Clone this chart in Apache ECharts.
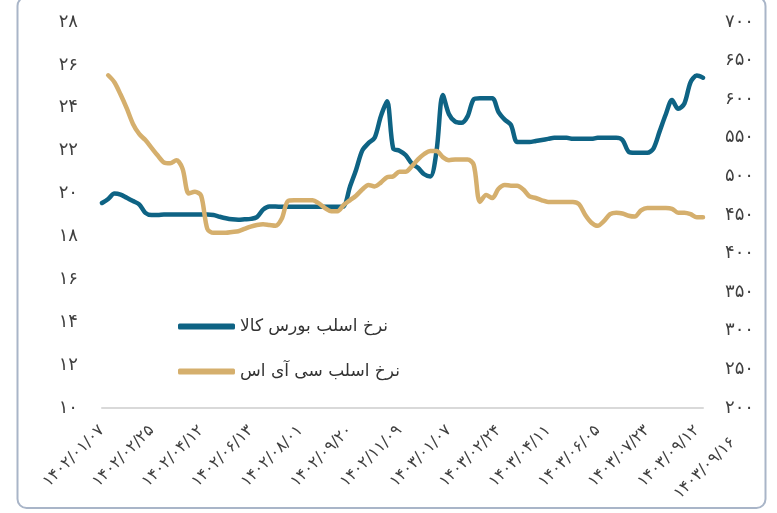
<!DOCTYPE html>
<html>
<head>
<meta charset="utf-8">
<script src="https://cdn.jsdelivr.net/npm/echarts@6/dist/echarts.min.js"></script>
<style>
  html, body { margin: 0; padding: 0; background: #fff; }
  #chart { width: 777px; height: 513px; }
</style>
</head>
<body>
<div id="chart"></div>
<script>
// برچسب‌های محور افقی (هر ۸ نقطه یک برچسب)
const tickLabels = [
  '۱۴۰۲/۰۱/۰۷', '۱۴۰۲/۰۲/۲۵', '۱۴۰۲/۰۴/۱۲', '۱۴۰۲/۰۶/۱۳', '۱۴۰۲/۰۸/۰۱',
  '۱۴۰۲/۰۹/۲۰', '۱۴۰۲/۱۱/۰۹', '۱۴۰۳/۰۱/۰۷', '۱۴۰۳/۰۲/۲۴', '۱۴۰۳/۰۴/۱۱',
  '۱۴۰۳/۰۶/۰۵', '۱۴۰۳/۰۷/۲۳', '۱۴۰۳/۰۹/۱۲'
]
const lastLabel = '۱۴۰۳/۰۹/۱۶'
const labelStep = 8

const seriesNames = ['نرخ اسلب بورس کالا', 'نرخ اسلب سی آی اس']

// نرخ اسلب بورس کالا (محور چپ)
const boursRate = [
  19.56, 19.75, 20.0, 19.95, 19.8, 19.65, 19.5, 19.1, 19.0, 19.0,
  19.02, 19.02, 19.02, 19.02, 19.02, 19.02, 19.02, 19.02, 19.0, 18.92,
  18.85, 18.8, 18.78, 18.8, 18.82, 18.9, 19.25, 19.4, 19.4, 19.38,
  19.38, 19.38, 19.38, 19.38, 19.38, 19.38, 19.38, 19.38, 19.38, 19.4,
  20.3, 21.1, 22.0, 22.35, 22.6, 23.6, 24.3, 22.1, 22.0, 21.8,
  21.4, 21.2, 20.9, 20.8, 22.0, 24.6, 23.7, 23.35, 23.3, 23.6,
  24.4, 24.45, 24.45, 24.45, 23.8, 23.45, 23.2, 22.4, 22.4, 22.4,
  22.45, 22.5, 22.55, 22.6, 22.6, 22.6, 22.55, 22.55, 22.55, 22.55,
  22.6, 22.6, 22.6, 22.6, 22.5, 21.95, 21.9, 21.9, 21.9, 22.1,
  22.9, 23.7, 24.36, 23.95, 24.2, 25.2, 25.5, 25.4
]

// نرخ اسلب سی آی اس (محور راست)
const cisRate = [
  null, 631, 622, 606, 588, 568, 555, 547, 537, 527,
  518, 517, 521, 510, 478, 480, 475, 432, 427, 427,
  427, 428, 429, 432, 435, 437, 438, 437, 436, 445,
  468, 469, 469, 469, 469, 465, 459, 455, 455, 463,
  469, 475, 483, 489, 487, 492, 499, 500, 506, 506,
  513, 522, 529, 533, 533, 525, 521, 522, 522, 522,
  515, 467, 476, 472, 484, 489, 488, 488, 483, 474,
  472, 469, 467, 467, 467, 467, 467, 464, 450, 440,
  436, 442, 451, 453, 452, 449, 448, 456, 459, 459,
  459, 459, 458, 453, 453, 451, 447, 447
]

const faDigits = '۰۱۲۳۴۵۶۷۸۹'
const toFa = v => String(v).replace(/\d/g, d => faDigits[d])

const categories = boursRate.map((_, i) => String(i))
const font = 'DejaVu Sans'
const labelColor = '#404040'

const chart = echarts.init(document.getElementById('chart'))

const option = {
  backgroundColor: '#ffffff',
  animation: false,
  textStyle: { fontFamily: font },
  graphic: [{
    type: 'rect',
    shape: { x: 17.5, y: -3, width: 748, height: 511, r: 9 },
    style: { fill: 'none', stroke: '#a9b5c8', lineWidth: 2 },
    silent: true
  }],
  grid: [
    { left: 102, right: 74, top: 22, bottom: 105 },
    // شبکهٔ کمکی فقط برای برچسب آخر
    { left: 102, right: 44, top: 22, bottom: 105 }
  ],
  legend: {
    orient: 'vertical',
    left: 173,
    top: 313,
    itemWidth: 57,
    itemHeight: 6,
    itemGap: 28,
    icon: 'roundRect',
    textStyle: { fontFamily: font, fontSize: 17, color: '#333' },
    data: seriesNames
  },
  xAxis: [
    {
      type: 'category',
      gridIndex: 0,
      data: categories,
      boundaryGap: false,
      axisLine: { lineStyle: { color: '#d9d9d9', width: 2 } },
      axisTick: { show: false },
      axisLabel: {
        interval: idx => idx % labelStep === 0 && idx / labelStep < tickLabels.length,
        formatter: (v, idx) => tickLabels[idx / labelStep] || '',
        rotate: 45,
        margin: 20,
        fontSize: 16,
        color: labelColor,
        fontFamily: font
      },
      splitLine: { show: false }
    },
    {
      type: 'category',
      gridIndex: 1,
      data: ['a', 'b'],
      boundaryGap: false,
      axisLine: { show: false },
      axisTick: { show: false },
      axisLabel: {
        interval: 0,
        formatter: (v, idx) => idx === 1 ? lastLabel : '',
        rotate: 45,
        margin: 32,
        fontSize: 16,
        color: labelColor,
        fontFamily: font
      },
      splitLine: { show: false }
    }
  ],
  yAxis: [
    {
      type: 'value',
      gridIndex: 0,
      position: 'left',
      min: 10,
      max: 28,
      interval: 2,
      axisLine: { show: false },
      axisTick: { show: false },
      splitLine: { show: false },
      axisLabel: { margin: 24, fontSize: 18, color: labelColor, fontFamily: font, formatter: toFa }
    },
    {
      type: 'value',
      gridIndex: 0,
      position: 'right',
      min: 200,
      max: 700,
      interval: 50,
      axisLine: { show: false },
      axisTick: { show: false },
      splitLine: { show: false },
      axisLabel: { margin: 22, fontSize: 18, color: labelColor, fontFamily: font, formatter: toFa }
    },
    {
      type: 'value',
      gridIndex: 1,
      show: false
    }
  ],
  series: [
    {
      name: seriesNames[0],
      type: 'line',
      xAxisIndex: 0,
      yAxisIndex: 0,
      data: boursRate,
      smooth: 0.3,
      showSymbol: false,
      lineStyle: { color: '#0e6384', width: 4.5, cap: 'round', join: 'round' },
      itemStyle: { color: '#0e6384' }
    },
    {
      name: seriesNames[1],
      type: 'line',
      xAxisIndex: 0,
      yAxisIndex: 1,
      data: cisRate,
      smooth: 0.3,
      showSymbol: false,
      lineStyle: { color: '#d5af6d', width: 4.5, cap: 'round', join: 'round' },
      itemStyle: { color: '#d5af6d' }
    }
  ]
}

chart.setOption(option)
</script>
</body>
</html>
